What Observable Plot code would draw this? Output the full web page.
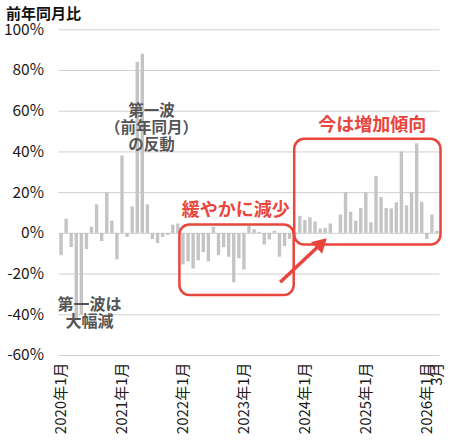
<!DOCTYPE html>
<html><head><meta charset="utf-8">
<script src="https://cdn.jsdelivr.net/npm/d3@7"></script>
<script src="https://cdn.jsdelivr.net/npm/@observablehq/plot@0.6"></script>
<style>
body{margin:0;background:#fff;}
#wrap{position:relative;width:450px;height:444px;}
#title{position:absolute;left:6px;top:3px;font-family:"Noto Sans CJK JP",sans-serif;font-weight:bold;font-size:15px;color:#111;line-height:19px;z-index:2;}
</style></head><body>
<div id="wrap"><div id="title">前年同月比</div><div id="chart"></div></div>
<script>
// 前年同月比 (%), monthly, 2020年1月 – 2026年3月
const y2020 = [-11, 7, -7, -42, -40, -8, 3, 14, -4, 20, 6, -13];
const y2021 = [38, -2, 13, 84, 88, 14, -3, -5, -2, -1, 4, 4.6];
const y2022 = [-15.5, -14, -17.5, -13.5, -9.5, -14, 3, -11, -7, -11.7, -24.3, -12.5];
const y2023 = [-18, 3.5, 1.8, 0.5, -5.7, -3.2, 1, -11.7, -6.5, -3, -1, 8.3];
const y2024 = [6.3, 7.7, 5.6, 2.1, 2.4, 4.6, 0, 9, 20, 10.4, 6, 12.2];
const y2025 = [20, 5.2, 28, 17.6, 12.2, 12, 15, 40, 13.5, 20, 44, 15.3];
const y2026 = [-3, 9, 1];

const yTicks = [-60, -40, -20, 0, 20, 40, 60, 80, 100];
const tickMonths = [0, 12, 24, 36, 48, 60, 72, 74];
const tickLabels = ["2020年1月", "2021年1月", "2022年1月", "2023年1月", "2024年1月", "2025年1月", "2026年1月", "3月"];

const values = [...y2020, ...y2021, ...y2022, ...y2023, ...y2024, ...y2025, ...y2026];
const data = values.map((v, i) => ({i, v}));
const labelMap = new Map(tickMonths.map((m, k) => [m + 0.5, tickLabels[k]]));
const red = "#e8453c";
const font = '"Noto Sans CJK JP", sans-serif';

const chart = Plot.plot({
  width: 450, height: 444,
  marginTop: 29.3, marginBottom: 89, marginLeft: 58.5, marginRight: 10.5,
  style: {fontFamily: font, background: "white", overflow: "visible"},
  x: {type: "linear", domain: [0, 75], axis: null, label: null},
  y: {domain: [-60, 100], axis: null, label: null},
  marks: [
    Plot.ruleY(yTicks, {stroke: "#cfcfcf", strokeWidth: 1}),
    Plot.rect(data, {x1: "i", x2: d => d.i + 1, y1: 0, y2: "v", fill: "#c4c4c4", insetLeft: 0.85, insetRight: 0.85}),
    Plot.axisY(yTicks, {tickSize: 0, tickPadding: 15, tickFormat: d => d + "%", fontSize: 15.5, fill: "#1a1a1a", label: null}),
    Plot.axisX([...labelMap.keys()], {tickSize: 0, tickPadding: 7, tickRotate: -90, tickFormat: d => labelMap.get(d), fontSize: 15, fill: "#1a1a1a", label: null}),
    Plot.rect([0], {x1: 23.8, x2: 46.3, y1: -30.5, y2: 4.1, rx: 10, fill: "none", stroke: red, strokeWidth: 2.5}),
    Plot.rect([0], {x1: 46.4, x2: 75.2, y1: -5.7, y2: 46.2, rx: 10, fill: "none", stroke: red, strokeWidth: 2.5}),
    Plot.link([0], {x1: 43.54, y1: -24, x2: 51.37, y2: -5.6, stroke: red, strokeWidth: 3.5}),
    Plot.dot([0], {x: 51.37, y: -5.6, symbol: "triangle", r: 6, rotate: 46.7, fill: red, stroke: "none"}),
    Plot.text(["緩やかに減少"], {x: 34.8, y: 11.4, fill: red, fontSize: 18, fontWeight: "bold"}),
    Plot.text(["今は増加傾向"], {x: 61.65, y: 53.1, fill: red, fontSize: 18, fontWeight: "bold"}),
    Plot.text(["第一波\n（前年同月）\nの反動"], {x: 18.2, y: 52.1, lineHeight: 1.12, fill: "#555", fontSize: 15.5, fontWeight: "bold"}),
    Plot.text(["第一波は\n大幅減"], {x: 6.0, y: -39.2, lineHeight: 1.06, fill: "#555", fontSize: 16, fontWeight: "bold"})
  ]
});
document.getElementById("chart").appendChild(chart);
</script>
</body></html>
